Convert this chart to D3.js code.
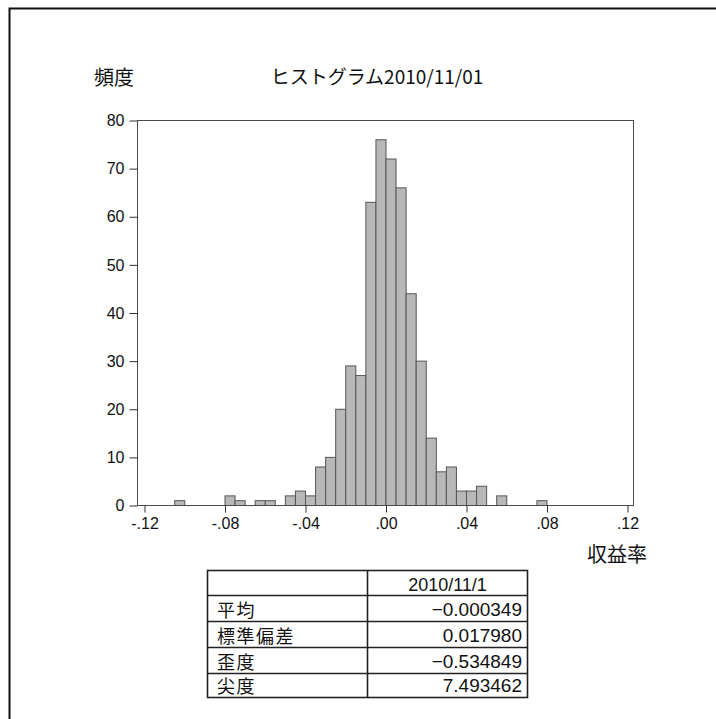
<!DOCTYPE html>
<html><head><meta charset="utf-8">
<script src="https://cdn.jsdelivr.net/npm/d3@7"></script>
<style>
html,body{margin:0;padding:0;background:#fff;}
svg{display:block;}
</style></head>
<body>
<script>
// ---- data ----
const binLo  = [-0.105,-0.100,-0.095,-0.090,-0.085,-0.080,-0.075,-0.070,-0.065,-0.060,-0.055,-0.050,-0.045,-0.040,-0.035,-0.030,-0.025,-0.020,-0.015,-0.010,-0.005,0.000,0.005,0.010,0.015,0.020,0.025,0.030,0.035,0.040,0.045,0.050,0.055,0.060,0.065,0.070,0.075];
const binHi  = [-0.100,-0.095,-0.090,-0.085,-0.080,-0.075,-0.070,-0.065,-0.060,-0.055,-0.050,-0.045,-0.040,-0.035,-0.030,-0.025,-0.020,-0.015,-0.010,-0.005,0.000,0.005,0.010,0.015,0.020,0.025,0.030,0.035,0.040,0.045,0.050,0.055,0.060,0.065,0.070,0.075,0.080];
const counts = [1,0,0,0,0,2,1,0,1,1,0,2,3,2,8,10,20,29,27,63,76,72,66,44,30,14,7,8,3,3,4,0,2,0,0,0,1];
const xTicks = [-0.12,-0.08,-0.04,0.00,0.04,0.08,0.12];
const xTickLabels = ["-.12","-.08","-.04",".00",".04",".08",".12"];
const yTicks = [0,10,20,30,40,50,60,70,80];
const title = "ヒストグラム2010/11/01";
const yLabel = "頻度";
const xLabel = "収益率";
const tableHeader = "2010/11/1";
const statNames = ["平均","標準偏差","歪度","尖度"];
const statValues = ["−0.000349","0.017980","−0.534849","7.493462"];

// ---- drawing ----
const W = 716, H = 719;
const svg = d3.select("body").append("svg").attr("width", W).attr("height", H);

// outer border
svg.append("path").attr("d", `M9.5,${H} V8.5 H${W}`)
  .attr("fill","none").attr("stroke","#111").attr("stroke-width",2);

const plot = {left:137, right:633, top:120, bottom:505};
const x = d3.scaleLinear().domain([-0.12, 0.12]).range([144, 627]);
const y = d3.scaleLinear().domain([0, 80]).range([plot.bottom, plot.top]);

// bars
const bins = counts.map((c,i)=>({lo:binLo[i], hi:binHi[i], c}));
svg.append("g").selectAll("rect").data(bins).join("rect")
  .attr("x", d=>x(d.lo)+0.5)
  .attr("width", d=>x(d.hi)-x(d.lo))
  .attr("y", d=>y(d.c)+0.5)
  .attr("height", d=>y(0)-y(d.c))
  .attr("fill","#b8b8b8")
  .attr("stroke","#555")
  .attr("stroke-width",1);

// frame
svg.append("rect")
  .attr("x", plot.left+0.5).attr("y", plot.top+0.5)
  .attr("width", plot.right-plot.left).attr("height", plot.bottom-plot.top)
  .attr("fill","none").attr("stroke","#4a4a4a").attr("stroke-width",1);

const sans = "'Liberation Sans', Arial, sans-serif";
// y axis
const yAxis = svg.append("g").attr("transform",`translate(${plot.left+0.5},0.5)`)
  .call(d3.axisLeft(y).tickValues(yTicks).tickSize(8).tickPadding(5).tickFormat(d3.format("d")));
yAxis.select(".domain").remove();
yAxis.selectAll("line").attr("stroke","#333");
yAxis.selectAll("text").attr("font-family",sans)
  .attr("font-size",16).attr("fill","#111");

// x axis
const xAxis = svg.append("g").attr("transform",`translate(0.5,${plot.bottom+0.5})`)
  .call(d3.axisBottom(x).tickValues(xTicks).tickSize(7).tickPadding(5)
        .tickFormat((d,i)=>xTickLabels[i]));
xAxis.select(".domain").remove();
xAxis.selectAll("line").attr("stroke","#333");
xAxis.selectAll("text").attr("font-family",sans)
  .attr("font-size",16).attr("fill","#111");

const jp = "'Noto Sans CJK JP', sans-serif";
// title & axis labels
svg.append("text").attr("x",377).attr("y",84).attr("text-anchor","middle")
  .attr("font-family",jp).attr("font-size",19).attr("fill","#111").text(title);
svg.append("text").attr("x",94).attr("y",85)
  .attr("font-family",jp).attr("font-size",20).attr("fill","#111").text(yLabel);
svg.append("text").attr("x",587).attr("y",562)
  .attr("font-family",jp).attr("font-size",20).attr("fill","#111").text(xLabel);

// stats table
const tb = {left:207.5, mid:367.5, right:527.5};
const rowEdges = [570, 595, 621, 647, 673, 697];
const tg = svg.append("g");
tg.append("rect").attr("x",tb.left).attr("y",rowEdges[0]+0.5)
  .attr("width",tb.right-tb.left).attr("height",rowEdges[5]-rowEdges[0])
  .attr("fill","none").attr("stroke","#222").attr("stroke-width",1.6);
tg.selectAll("line.h").data(rowEdges.slice(1,5)).join("line").attr("class","h")
  .attr("x1",tb.left).attr("x2",tb.right).attr("y1",d=>d+0.5).attr("y2",d=>d+0.5)
  .attr("stroke","#222").attr("stroke-width",1.6);
tg.append("line").attr("x1",tb.mid).attr("x2",tb.mid)
  .attr("y1",rowEdges[0]).attr("y2",rowEdges[5])
  .attr("stroke","#222").attr("stroke-width",1.6);
tg.append("text").attr("x",(tb.mid+tb.right)/2).attr("y",591).attr("text-anchor","middle")
  .attr("font-family",sans).attr("font-size",18).attr("fill","#111").text(tableHeader);
tg.selectAll("text.n").data(statNames).join("text").attr("class","n")
  .attr("x",217).attr("y",(d,i)=>rowEdges[i+2]-4)
  .attr("font-family",jp).attr("font-size",18).attr("letter-spacing",1.5)
  .attr("fill","#111").text(d=>d);
tg.selectAll("text.v").data(statValues).join("text").attr("class","v")
  .attr("x",522).attr("y",(d,i)=>rowEdges[i+2]-5).attr("text-anchor","end")
  .attr("font-family",sans).attr("font-size",19).attr("fill","#111").text(d=>d);
</script>
</body></html>
